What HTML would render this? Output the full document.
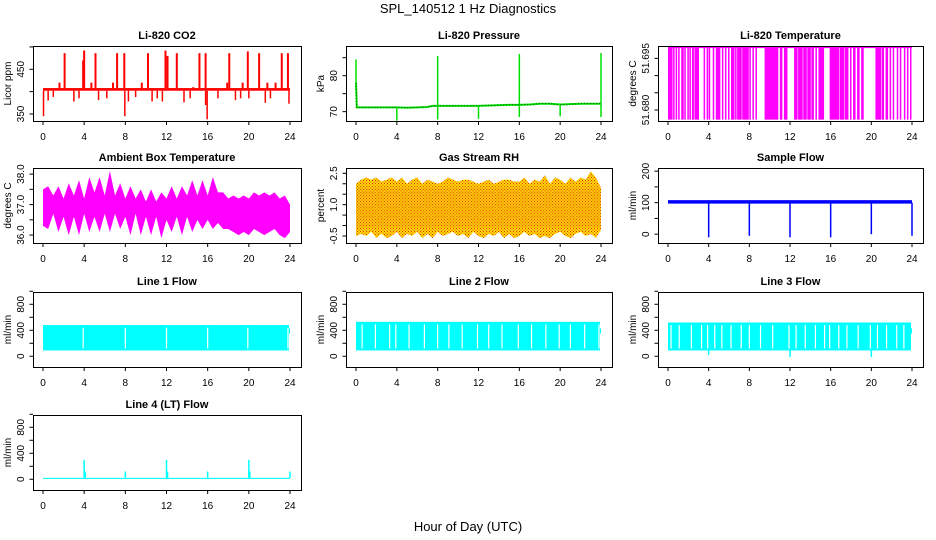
<!DOCTYPE html>
<html><head><meta charset="utf-8"><style>
html,body{margin:0;padding:0;background:#fff;}
svg{display:block;font-family:"Liberation Sans",Arial,sans-serif;}
.tl{font-size:11px;font-weight:bold;text-anchor:middle;}
.tk{font-size:10px;}
</style></head><body>
<svg id="c" width="936" height="540" viewBox="0 0 936 540">
<defs>
<pattern id="rhpat" width="3" height="3" patternUnits="userSpaceOnUse"><rect width="3" height="3" fill="#ffe000"/><rect x="0" y="0" width="1" height="1" fill="#e8201a"/><rect x="1.5" y="1.5" width="1" height="1" fill="#e8201a"/></pattern>
</defs>
<text x="468" y="13" font-size="13" text-anchor="middle">SPL_140512  1 Hz Diagnostics</text>
<text x="468" y="531" font-size="13" text-anchor="middle">Hour of Day (UTC)</text>
</svg>
<script>
const xTicks=[0,4,8,12,16,20,24];
// CO2
const co2Base=[402,408];
const co2UpHours=[2.1,4.0,5.1,7.2,7.9,10.2,11.9,13.0,15.2,15.8,18.1,19.9,21.0,23.2,23.8,1.6,3.9,4.7,6.8,9.6,12.1,14.6,17.9,19.4,21.8,22.6];
const co2UpVals=[486,492,486,486,486,486,492,486,486,486,486,490,486,486,486,420,470,420,420,420,480,410,420,420,420,420];
const co2DnHours=[0.05,0.5,1.0,3.0,3.5,5.4,6.2,7.95,8.3,9.0,10.6,11.1,11.6,13.7,14.3,15.8,15.95,17.0,18.7,19.2,20.0,21.6,22.1,23.9];
const co2DnVals=[345,380,388,378,385,381,385,345,378,388,378,385,378,376,385,370,338,385,381,385,385,375,385,373];
// Pressure
const pHours=[0,0.08,1,2,3,4,5,6,7,7.5,8,9,10,11,12,13,14,15,16,17,18,19,20,21,22,23,23.9,24];
const pVals=[78,71.2,71.2,71.2,71.2,71.2,71.1,71.2,71.3,71.6,71.6,71.6,71.6,71.6,71.6,71.7,71.8,71.9,71.9,72.0,72.2,72.2,72.0,72.1,72.2,72.2,72.2,72.2];
const pSpikeHours=[0,8,16,24,4,8,12,16,20,24];
const pSpikeVals=[84.5,85.5,86.0,86.3,67.5,67.8,68.0,68.5,68.7,68.5];
// Li-820 temperature: intervals at lower level
const tStart=[0,0.5,0.75,1.0,1.3,1.6,1.9,2.1,2.35,2.6,3.5,3.8,4.0,4.4,4.7,5.3,5.6,5.9,6.2,6.6,6.8,7.3,8.0,8.3,8.6,9.5,11.0,11.4,12.4,12.8,13.3,13.7,14.1,14.5,14.8,15.9,16.9,17.4,17.9,18.2,18.6,19.0,20.4,21.0,21.4,21.8,22.1,22.5,22.8,23.2,23.5,23.8];
const tEnd=[0.4,0.6,0.85,1.1,1.5,1.7,2.0,2.2,2.5,3.0,3.6,3.9,4.1,4.5,5.1,5.4,5.7,6.0,6.5,6.7,7.2,7.9,8.1,8.4,8.7,10.8,11.2,11.7,12.7,13.2,13.6,14.0,14.3,14.6,15.3,16.8,17.3,17.7,18.0,18.4,18.8,19.2,20.9,21.2,21.6,21.9,22.2,22.6,22.9,23.3,23.6,23.9];
const tLevels=[51.6772,51.6982];
// Ambient box temperature envelope (every 0.5 h)
const ambHours=[0,0.5,1,1.5,2,2.5,3,3.5,4,4.5,5,5.5,6,6.5,7,7.5,8,8.5,9,9.5,10,10.5,11,11.5,12,12.5,13,13.5,14,14.5,15,15.5,16,16.5,17,17.5,18,18.5,19,19.5,20,20.5,21,21.5,22,22.5,23,23.5,24];
const ambUpper=[37.5,37.6,37.3,37.6,37.2,37.7,37.3,37.8,37.2,37.9,37.4,37.9,37.3,38.1,37.3,37.7,37.2,37.6,37.2,37.5,37.1,37.5,37.1,37.4,37.2,37.6,37.2,37.6,37.3,37.8,37.3,37.8,37.3,37.9,37.4,37.4,37.2,37.3,37.2,37.3,37.2,37.4,37.3,37.4,37.3,37.4,37.2,37.3,37.0];
const ambLower=[36.3,36.2,36.7,36.1,36.6,36.0,36.6,36.0,36.7,36.1,36.6,36.1,36.7,36.1,36.7,36.2,36.6,36.0,36.7,36.0,36.6,36.0,36.6,35.9,36.5,36.1,36.6,36.0,36.6,36.1,36.5,36.2,36.5,36.2,36.4,36.2,36.2,36.1,36.0,36.1,36.0,36.2,36.1,36.0,36.1,36.2,36.0,35.9,36.1];
// Gas stream RH envelope
const rhUpper=[2.0,2.2,2.3,2.2,2.3,2.1,2.2,2.3,2.1,2.3,2.0,2.2,2.3,2.0,2.2,2.1,2.0,2.1,2.3,2.2,2.1,2.2,2.2,2.1,2.0,2.1,2.2,2.0,2.1,2.2,2.2,2.1,2.1,2.3,2.0,2.2,2.1,2.4,2.0,2.3,2.2,2.0,2.3,2.1,2.3,2.2,2.6,2.3,1.8];
const rhLower=[-0.5,-0.4,-0.5,-0.3,-0.6,-0.4,-0.6,-0.5,-0.3,-0.6,-0.4,-0.5,-0.3,-0.6,-0.4,-0.6,-0.3,-0.5,-0.4,-0.3,-0.5,-0.4,-0.6,-0.3,-0.5,-0.6,-0.4,-0.5,-0.3,-0.6,-0.4,-0.6,-0.5,-0.3,-0.5,-0.4,-0.6,-0.5,-0.6,-0.4,-0.3,-0.5,-0.6,-0.4,-0.3,-0.5,-0.4,-0.6,-0.2];
const rhCore=[-0.1,1.8];
// Sample flow
const sfBand=[97,108];
const sfDipHours=[4,8,12,16,20,24];
const sfDipVals=[-10,-5,-10,-10,0,-5];
// Line flows
const l1Band=[90,480];
const l1Gaps=[3.9,8.0,12.0,16.0,19.9,23.8];
const l2Band=[90,530];
const l2Gaps=[0.6,1.9,3.3,3.9,5.2,6.7,8.0,9.1,10.4,11.9,13.0,14.3,15.9,17.2,18.6,19.9,21.0,22.4,23.8];
const l3Band=[90,520];
const l3Gaps=[0.3,1.1,2.3,3.3,3.9,4.6,5.3,6.2,7.2,8.0,9.1,10.3,11.9,12.6,13.5,14.5,15.4,15.9,16.8,17.6,18.7,19.9,20.6,21.5,22.5,23.2];
const l3DipHours=[4,12,20];
const l3DipVals=[20,-10,-10];
// Line 4
const l4Band=[5,22];
const l4SpikeHours=[4,4.1,8,12,12.1,16,20,20.1,24];
const l4SpikeVals=[300,120,120,300,120,120,300,120,120];

const svg=document.getElementById('c');
const NS='http://www.w3.org/2000/svg';
function mk(tag,attrs,parent){const e=document.createElementNS(NS,tag);for(const k in attrs)e.setAttribute(k,attrs[k]);(parent||svg).appendChild(e);return e;}
const colL=[33,346,658], colW=[268,266,265];
const rowT=[46,168,292,415], H=75;
function panel(name,col,row,title,ylab,ymin,ymax,ticks,labels){
  const g=mk('g',{});
  
  
  const L=colL[col],W=colW[col],T=rowT[row];
  const x=h=>L+10+h*(W-21)/24;
  const y=v=>T+(ymax-v)/(ymax-ymin)*H;
  const t=mk('text',{x:L+W/2,y:T-7,class:'tl'},g);t.textContent=title;
  
  const yl=mk('text',{transform:`translate(${L-22},${T+H/2}) rotate(-90)`,'text-anchor':'middle',class:'tk'},g);yl.textContent=ylab;
  
  const data=mk('g',{},g);
  const ax=mk('g',{stroke:'#000','stroke-width':1,fill:'none'},g);
  mk('rect',{x:L+0.5,y:T+0.5,width:W,height:H},ax);
  xTicks.forEach(h=>{mk('line',{x1:x(h),x2:x(h),y1:T+H,y2:T+H+4},ax);
    const tx=mk('text',{x:x(h),y:T+H+19,'text-anchor':'middle',class:'tk',stroke:'none',fill:'#000'},g);tx.textContent=h;
    });
  ticks.forEach(v=>mk('line',{x1:L-3.5,x2:L,y1:y(v),y2:y(v)},ax));
  labels.forEach(v=>{const tx=mk('text',{transform:`translate(${L-9},${y(v)}) rotate(-90)`,'text-anchor':'middle',class:'tk'},g);tx.textContent=v;
    });
  return {x,y,g:data,T,L,W};
}
function band(p,lo,hi,color,h0,h1){return mk('rect',{x:p.x(h0),y:p.y(hi),width:p.x(h1)-p.x(h0),height:p.y(lo)-p.y(hi),fill:color},p.g);}
function vline(p,h,v0,v1,color,w){return mk('line',{x1:p.x(h),x2:p.x(h),y1:p.y(v0),y2:p.y(v1),stroke:color,'stroke-width':w},p.g);}
function env(p,hs,up,lo,fill){let d='M'+hs.map((h,i)=>p.x(h)+','+p.y(up[i])).join('L');
  for(let i=hs.length-1;i>=0;i--)d+='L'+p.x(hs[i])+','+p.y(lo[i]);return mk('path',{d:d+'Z',fill:fill},p.g);}

let p=panel('co2-panel',0,0,'Li-820 CO2','Licor ppm',334.3,502.1,[350,400,450,500],['350','450']);
co2UpHours.forEach((h,i)=>{const e=vline(p,h,co2Base[1],co2UpVals[i],'#ff0000',2);});
co2DnHours.forEach((h,i)=>{const e=vline(p,h,co2Base[0],co2DnVals[i],'#ff0000',1.5);});
let e=band(p,co2Base[0],co2Base[1],'#ff0000',0,24);

p=panel('pressure-panel',1,0,'Li-820 Pressure','kPa',67.4,88.25,[70,75,80,85],['70','80']);
pSpikeHours.forEach((h,i)=>{const e=vline(p,h,pVals[Math.min(pVals.length-1,Math.round(h))]||72,pSpikeVals[i],'#00e000',1.5);});
e=mk('polyline',{points:pHours.map((h,i)=>p.x(h)+','+p.y(pVals[i])).join(' '),fill:'none',stroke:'#00e000','stroke-width':2},p.g);

e=mk('polyline',{points:pHours.map((h,i)=>p.x(h)+','+p.y(pVals[i])).join(' '),fill:'none',stroke:'#000','stroke-width':0.6,'stroke-dasharray':'1 2'},p.g);


p=panel('li820-temp-panel',2,0,'Li-820 Temperature','degrees C',51.6768,51.6986,[51.680,51.685,51.690,51.695],['51.680','51.695']);
tStart.forEach((s,i)=>{const e=band(p,tLevels[0],tLevels[1],'#ff00ff',s,tEnd[i]+0.05);});
e=mk('line',{x1:p.x(0),x2:p.x(24),y1:p.y(tLevels[1]),y2:p.y(tLevels[1]),stroke:'#ff00ff','stroke-width':1.5},p.g);


p=panel('ambient-temp-panel',0,1,'Ambient Box Temperature','degrees C',35.74,38.2,[36,36.5,37,37.5,38],['36.0','37.0','38.0']);
e=env(p,ambHours,ambUpper,ambLower,'#ff00ff');

p=panel('rh-panel',1,1,'Gas Stream RH','percent',-0.835,2.754,[-0.5,0,0.5,1,1.5,2,2.5],['-0.5','1.0','2.5']);
e=env(p,ambHours,rhUpper,rhLower,'url(#rhpat)');
e=band(p,rhCore[0],rhCore[1],'#f0a010',0,24);
e.setAttribute('fill-opacity','0.4');

p=panel('sample-flow-panel',2,1,'Sample Flow','ml/min',-28,210,[0,50,100,150,200],['0','100','200']);
e=band(p,sfBand[0],sfBand[1],'#0000ff',0,24);
sfDipHours.forEach((h,i)=>{const e=vline(p,h,100,sfDipVals[i],'#0000ff',1.5);});

const cy='#00ffff';
function flow(name,col,row,title,b,gaps,dh,dv){
  const p=panel(name,col,row,title,'ml/min',-165,989,[0,200,400,600,800,1000],['0','400','800']);
  let e=band(p,b[0],b[1],cy,0,23.9);
  e=band(p,350,430,cy,23.9,24);
  gaps.forEach(h=>{const e=vline(p,h,b[0]+30,b[1]-40,'#fff',1.2);});
  (dh||[]).forEach((h,i)=>{const e=vline(p,h,b[0],dv[i],cy,1.5);});
  return p;
}
flow('line1-flow-panel',0,2,'Line 1 Flow',l1Band,l1Gaps);
flow('line2-flow-panel',1,2,'Line 2 Flow',l2Band,l2Gaps);
flow('line3-flow-panel',2,2,'Line 3 Flow',l3Band,l3Gaps,l3DipHours,l3DipVals);
p=panel('line4-flow-panel',0,3,'Line 4 (LT) Flow','ml/min',-165,989,[0,200,400,600,800,1000],['0','400','800']);
e=band(p,l4Band[0],l4Band[1],cy,0,24);
l4SpikeHours.forEach((h,i)=>{const e=vline(p,h,l4Band[1],l4SpikeVals[i],cy,1.5);});
</script>
</body></html>
